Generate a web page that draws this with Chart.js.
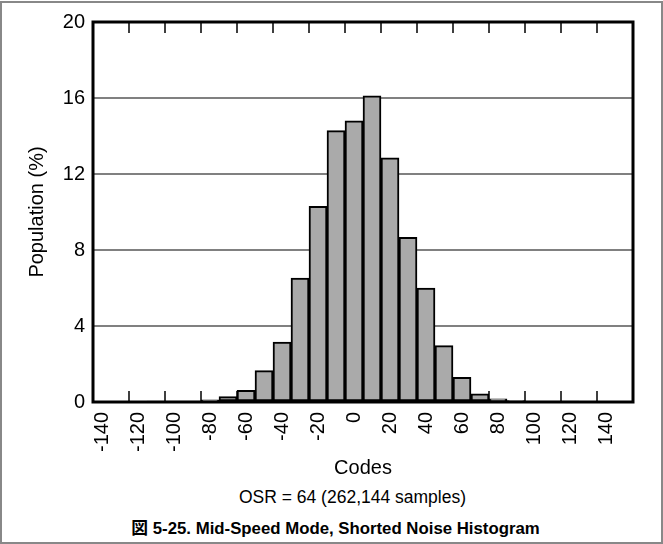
<!DOCTYPE html>
<html>
<head>
<meta charset="utf-8">
<script src="https://cdn.jsdelivr.net/npm/chart.js@4/dist/chart.umd.min.js"></script>
<style>
  body { margin: 0; background: #fff; font-family: "Liberation Sans", "Noto Sans CJK JP", sans-serif; }
  #wrap { position: relative; width: 663px; height: 544px; overflow: hidden; }
  #frame { position: absolute; left: 0; top: 1px; right: 0; bottom: 0; border: 2px solid #888; pointer-events: none; }
  #box { position: absolute; left: 0; top: 0; width: 663px; height: 480px; }
  .note { position: absolute; left: 0; width: 663px; text-align: center; color: #000; white-space: nowrap; }
  #osr { top: 487px; font-size: 17.5px; left: 21px; }
  #cap { top: 515px; font-size: 16.8px; font-weight: bold; left: 4px; }
</style>
</head>
<body>
<div id="wrap">
  <div id="box"><canvas id="hist"></canvas></div>
  <div class="note" id="osr">OSR = 64 (262,144 samples)</div>
  <div class="note" id="cap">図 5-25. Mid-Speed Mode, Shorted Noise Histogram</div>
  <div id="frame"></div>
</div>
<script>
// bins of 10 codes each
const codes = [-140, -130, -120, -110, -100, -90, -80, -70, -60, -50, -40, -30, -20, -10, 0,
               10, 20, 30, 40, 50, 60, 70, 80, 90, 100, 110, 120, 130, 140, 150];
const population = [0, 0, 0, 0.01, 0.03, 0.03, 0.12, 0.29, 0.62, 1.65, 3.15, 6.52, 10.3, 14.28, 14.8,
                    16.12, 12.85, 8.67, 6.0, 2.97, 1.3, 0.43, 0.17, 0.07, 0.03, 0.01, 0.01, 0, 0, 0];
const xTickLabels = ["-140", "-120", "-100", "-80", "-60", "-40", "-20", "0", "20", "40", "60", "80", "100", "120", "140"];
const yTicks = [0, 4, 8, 12, 16, 20];

const font = { family: '"Liberation Sans", Arial, sans-serif', size: 20 };

// frame around plot + inward tick marks between every second bin
const frameTicks = {
  id: "frameTicks",
  afterDatasetsDraw(chart) {
    const { ctx, chartArea: a, scales: { x } } = chart;
    ctx.save();
    ctx.strokeStyle = "#000";
    ctx.lineWidth = 1.5;
    for (let i = 2; i < codes.length; i += 2) {
      const px = (x.getPixelForValue(i - 1) + x.getPixelForValue(i)) / 2;
      ctx.beginPath();
      ctx.moveTo(px, a.bottom); ctx.lineTo(px, a.bottom - 11);
      ctx.moveTo(px, a.top); ctx.lineTo(px, a.top + 11);
      ctx.stroke();
    }
    ctx.lineWidth = 3;
    ctx.strokeRect(a.left, a.top, a.right - a.left, a.bottom - a.top);
    ctx.restore();
  }
};

new Chart(document.getElementById("hist").getContext("2d"), {
  type: "bar",
  data: {
    labels: codes.map(String),
    datasets: [{
      label: "Population",
      data: population,
      backgroundColor: "#aaaaaa",
      borderColor: "#000",
      borderWidth: 2,
      borderSkipped: false,
      barPercentage: 1,
      categoryPercentage: 1
    }]
  },
  options: {
    responsive: true,
    maintainAspectRatio: false,
    animation: false,
    layout: { padding: { top: 22, right: 30, left: 0, bottom: 0 } },
    plugins: { legend: { display: false }, tooltip: { enabled: false } },
    scales: {
      x: {
        grid: { display: false, drawTicks: false },
        border: { display: false },
        ticks: {
          autoSkip: false,
          minRotation: 90,
          maxRotation: 90,
          padding: 10,
          color: "#000",
          font: font,
          callback: (v, i) => (i % 2 === 0 ? xTickLabels[i / 2] || "" : "")
        },
        title: { display: true, text: "Codes", color: "#000", font: font, padding: { top: 0, bottom: 0 } },
        afterFit: (s) => { s.height = 78; }
      },
      y: {
        min: 0,
        max: 20,
        afterBuildTicks: (s) => { s.ticks = yTicks.map(v => ({ value: v })); },
        grid: { color: "#808080", lineWidth: 2, drawTicks: false },
        border: { display: false },
        ticks: { padding: 8, color: "#000", font: font },
        title: { display: true, text: "Population (%)", color: "#000", font: font, padding: { top: 25, bottom: 0 } },
        afterFit: (s) => { s.width = 93; }
      }
    }
  },
  plugins: [frameTicks]
});
</script>
</body>
</html>
